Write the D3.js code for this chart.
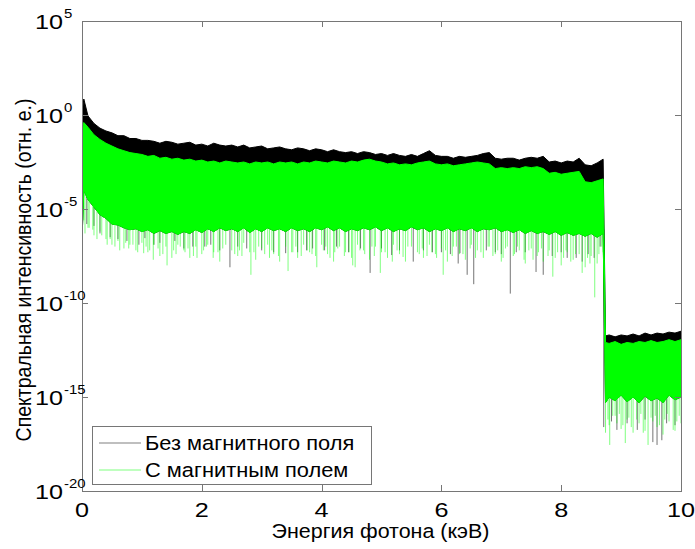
<!DOCTYPE html>
<html>
<head>
<meta charset="utf-8">
<script src="https://cdn.jsdelivr.net/npm/d3@7"></script>
<style>
  body { margin: 0; background: #fff; }
  text { font-family: "Liberation Sans", Arial, sans-serif; fill: #000; }
</style>
</head>
<body>
<svg id="chart" width="695" height="549"></svg>
<script>
// Photon energy grid, keV
const energy = [
  0, 0.03, 0.1, 0.2, 0.3, 0.4, 0.5, 0.6, 0.7, 0.8, 0.9, 1.0,
  1.1, 1.2, 1.3, 1.4, 1.5, 1.6, 1.7, 1.8, 1.9, 2.0,
  2.1, 2.2, 2.3, 2.4, 2.5, 2.6, 2.7, 2.8, 2.9, 3.0,
  3.1, 3.2, 3.3, 3.4, 3.5, 3.6, 3.7, 3.8, 3.9, 4.0,
  4.1, 4.2, 4.3, 4.4, 4.5, 4.6, 4.7, 4.8, 4.9, 5.0,
  5.1, 5.2, 5.3, 5.4, 5.5, 5.6, 5.7, 5.8, 5.9, 6.0,
  6.1, 6.2, 6.3, 6.4, 6.5, 6.6, 6.7, 6.8, 6.9, 7.0,
  7.1, 7.2, 7.3, 7.4, 7.5, 7.6, 7.7, 7.8, 7.9, 8.0,
  8.1, 8.2, 8.3, 8.4, 8.5, 8.6, 8.7,
  8.74, 8.8, 8.9, 9.0, 9.1, 9.2, 9.3, 9.4, 9.5, 9.6, 9.7, 9.8, 9.9, 10.0
];

// Without magnetic field: upper envelope, log10 of intensity
const blackUpperExp = [
  0.0, 0.85, -0.05, -0.45, -0.7, -0.85, -0.95, -1.1, -1.1, -1.25, -1.25, -1.35,
  -1.35, -1.4, -1.5, -1.4, -1.45, -1.55, -1.5, -1.45, -1.6, -1.55,
  -1.65, -1.5, -1.6, -1.65, -1.6, -1.7, -1.6, -1.75, -1.7, -1.65,
  -1.8, -1.75, -1.7, -1.8, -1.85, -1.75, -1.8, -1.9, -1.8, -1.85,
  -1.95, -1.85, -1.95, -2.0, -1.95, -2.05, -1.95, -2.0, -2.1, -2.05,
  -2.15, -2.05, -2.15, -2.2, -2.1, -2.2, -2.05, -1.9, -2.15, -2.2,
  -2.2, -2.3, -2.2, -2.25, -2.2, -2.15, -2.05, -2.0, -2.3, -2.35,
  -2.3, -2.3, -2.4, -2.3, -2.25, -2.3, -2.2, -2.5, -2.45, -2.55,
  -2.45, -2.5, -2.3, -2.65, -2.7, -2.55, -2.35,
  -11.75, -11.7, -11.8, -11.7, -11.75, -11.65, -11.75, -11.6, -11.7, -11.6, -11.65, -11.55, -11.6, -11.5
];

// With magnetic field: upper and lower edges of the dense band, log10 of intensity
const greenUpperExp = [
  -0.9, -0.4, -0.65, -1.05, -1.3, -1.5, -1.65, -1.8, -1.9, -2.0, -2.05, -2.1,
  -2.2, -2.15, -2.3, -2.25, -2.35, -2.3, -2.4, -2.35, -2.45, -2.4,
  -2.5, -2.45, -2.55, -2.45, -2.5, -2.55, -2.5, -2.6, -2.5, -2.55,
  -2.5, -2.6, -2.5, -2.55, -2.5, -2.6, -2.5, -2.55, -2.45, -2.5,
  -2.55, -2.45, -2.5, -2.55, -2.45, -2.5, -2.4, -2.35, -2.45, -2.5,
  -2.6, -2.55, -2.65, -2.6, -2.65, -2.55, -2.5, -2.45, -2.6, -2.65,
  -2.6, -2.7, -2.65, -2.6, -2.55, -2.5, -2.55, -2.6, -2.85, -2.8,
  -2.85, -2.8, -2.85, -2.75, -2.8, -2.75, -2.85, -3.1, -3.05, -3.15,
  -3.1, -3.05, -3.0, -3.55, -3.6, -3.5, -3.4,
  -12.1, -12.15, -12.05, -12.2, -12.1, -12.15, -12.05, -12.1, -12.0, -12.1, -12.05, -11.95, -12.05, -11.95
];
const greenLowerExp = [
  -6.6, -4.0, -4.5, -4.9, -5.3, -5.5, -5.8, -5.85, -6.0, -6.1, -6.05, -6.2,
  -6.1, -6.3, -6.15, -6.3, -6.2, -6.35, -6.2, -6.3, -6.1, -6.25,
  -6.05, -6.2, -6.0, -6.15, -6.05, -6.2, -6.0, -6.25, -6.05, -6.2,
  -6.0, -6.15, -6.05, -6.2, -6.0, -6.15, -6.05, -6.2, -6.0, -6.1,
  -5.95, -6.15, -6.0, -6.2, -6.05, -6.15, -6.0, -6.1, -5.95, -6.15,
  -6.0, -6.2, -6.05, -6.15, -5.95, -6.1, -6.0, -6.2, -6.05, -6.15,
  -6.0, -6.2, -6.05, -6.15, -6.0, -6.2, -6.05, -6.1, -6.0, -6.2,
  -6.1, -6.25, -6.1, -6.3, -6.15, -6.3, -6.2, -6.35, -6.2, -6.4,
  -6.25, -6.4, -6.3, -6.45, -6.3, -6.5, -6.3,
  -15.3, -15.0, -15.2, -14.9, -15.25, -15.0, -15.3, -14.95, -15.2, -15.05, -15.3, -14.9, -15.15, -15.0
];
// With magnetic field: lowest sample in each energy bin, log10 of intensity
const greenMinExp = [
  -6.6, -5.6, -6.0, -6.4, -6.2, -6.6, -6.9, -6.7, -7.1, -6.9, -7.2, -6.8,
  -7.3, -6.9, -7.5, -7.0, -7.6, -6.9, -7.2, -7.6, -7.0, -7.4,
  -6.9, -7.3, -7.8, -6.9, -7.2, -7.5, -6.8, -7.3, -7.7, -7.1,
  -6.9, -7.4, -7.8, -7.0, -7.3, -7.6, -6.9, -7.3, -7.5, -6.9,
  -7.4, -7.8, -7.0, -7.3, -7.6, -6.9, -7.2, -7.7, -7.0, -7.3,
  -7.6, -6.9, -7.4, -7.8, -7.0, -7.3, -7.6, -6.9, -7.4, -7.1,
  -7.8, -7.0, -7.4, -7.7, -6.9, -7.2, -7.6, -7.0, -7.4, -7.8,
  -7.0, -7.5, -7.2, -7.9, -7.1, -7.5, -7.8, -7.2, -7.6, -8.0,
  -7.3, -7.7, -7.4, -8.1, -7.5, -7.9, -7.3,
  -16.9, -16.5, -16.0, -16.7, -16.2, -16.9, -16.4, -16.8, -16.1, -16.6, -17.0, -16.3, -16.8, -16.4
];

// Deep single-channel dips between grid points: [energy keV, log10 of intensity]
const blackDips = [
  [0.08, -5.8], [0.2, -5.9], [0.3, -6.3], [0.47, -6.5], [0.6, -6.6], [0.75, -6.7],
  [0.95, -6.9], [1.05, -6.55], [1.2, -6.9], [1.3, -6.8], [1.55, -6.7], [1.7, -7.1],
  [1.85, -7.0], [2.05, -7.0], [2.15, -6.9], [2.3, -7.2], [2.47, -8.1], [2.6, -7.0],
  [2.75, -7.1], [3.0, -7.2], [3.2, -7.3], [3.4, -7.35], [3.6, -7.3], [3.75, -7.2],
  [3.85, -7.1], [4.05, -7.2], [4.25, -7.0], [4.45, -7.3], [4.65, -7.1], [4.81, -8.4],
  [5.0, -7.1], [5.17, -7.45], [5.3, -7.2], [5.53, -7.8], [5.7, -7.2], [5.85, -7.3],
  [6.0, -7.3], [6.15, -7.4], [6.28, -7.9], [6.31, -7.35], [6.43, -8.5], [6.54, -9.0],
  [6.75, -7.2], [6.9, -7.3], [7.0, -7.4], [7.15, -9.5], [7.25, -7.3], [7.4, -7.3],
  [7.58, -8.35], [7.7, -8.5], [7.85, -7.5], [8.0, -7.3], [8.1, -7.6], [8.25, -7.6],
  [8.35, -7.8], [8.45, -7.4], [8.55, -7.6], [8.65, -7.0],
  [8.71, -16.6],
  [8.84, -16.3], [8.93, -16.75], [9.1, -16.4], [9.27, -16.75], [9.4, -16.2],
  [9.53, -17.4], [9.6, -17.55], [9.68, -17.3], [9.76, -16.4], [9.9, -16.5]
];
const greenDips = [
  [0.05, -6.3], [0.12, -6.0], [0.18, -6.1], [0.25, -6.6], [0.33, -6.4], [0.42, -6.9],
  [0.47, -6.6], [0.55, -7.0], [0.63, -7.2], [0.73, -6.8], [0.78, -7.1], [0.85, -6.9],
  [0.93, -7.3], [1.03, -7.35], [1.07, -7.0], [1.13, -7.2], [1.19, -7.7], [1.27, -7.1],
  [1.35, -7.4], [1.42, -8.0], [1.53, -7.2], [1.57, -7.4], [1.64, -7.0], [1.72, -7.3],
  [1.77, -7.1], [1.86, -7.5], [1.92, -7.6], [2.03, -7.2], [2.08, -7.0], [2.19, -7.6],
  [2.27, -7.3], [2.35, -7.1], [2.55, -7.4], [2.63, -7.2], [2.67, -7.5], [2.82, -8.5],
  [2.87, -7.3], [2.95, -7.0], [3.05, -7.4], [3.13, -7.6], [3.17, -7.2], [3.28, -7.5],
  [3.44, -8.3], [3.52, -7.3], [3.57, -7.0], [3.66, -7.5], [3.76, -7.2], [3.84, -7.4],
  [3.92, -8.1], [4.03, -7.2], [4.07, -7.0], [4.14, -7.6], [4.22, -7.3], [4.27, -7.1],
  [4.38, -7.5], [4.46, -7.3], [4.52, -8.0], [4.56, -8.1], [4.64, -7.2], [4.72, -7.4],
  [4.84, -7.0], [4.88, -7.5], [4.98, -8.4], [5.06, -7.3], [5.18, -7.8], [5.26, -7.2],
  [5.36, -7.55], [5.44, -7.0], [5.63, -7.4], [5.68, -7.1], [5.76, -7.5], [5.84, -7.3],
  [5.92, -7.6], [6.03, -8.5], [6.07, -7.2], [6.18, -7.5], [6.25, -7.0], [6.36, -7.4],
  [6.48, -7.1], [6.57, -7.6], [6.66, -7.3], [6.78, -7.0], [6.86, -7.5], [6.94, -7.2],
  [7.03, -7.6], [7.07, -7.1], [7.22, -7.4], [7.27, -7.0], [7.38, -7.7], [7.46, -7.2],
  [7.53, -7.7], [7.62, -7.3], [7.67, -7.1], [7.78, -7.5], [7.86, -8.6], [7.94, -7.3],
  [8.04, -7.6], [8.08, -7.2], [8.16, -7.8], [8.24, -7.4], [8.35, -8.4], [8.44, -7.6],
  [8.48, -7.9], [8.56, -9.7], [8.63, -7.4], [8.67, -7.0],
  [8.78, -16.2], [8.81, -17.55], [8.86, -16.0], [8.93, -16.4], [8.97, -15.9], [9.03, -16.5],
  [9.07, -17.45], [9.13, -16.1], [9.17, -16.6], [9.26, -16.2], [9.33, -15.9], [9.37, -16.9],
  [9.45, -17.55], [9.53, -16.3], [9.57, -16.0], [9.64, -16.5], [9.73, -16.2], [9.77, -15.9],
  [9.87, -16.75], [9.93, -16.3], [9.97, -16.0]
];

const xTickValues = [0, 2, 4, 6, 8, 10];
const yTickExps = [5, 0, -5, -10, -15, -20];
const seriesNames = ["Без магнитного поля", "С магнитным полем"];
const seriesColors = ["#000000", "#00ff00"];
const xTitle = "Энергия фотона (кэВ)";
const yTitle = "Спектральная интенсивность (отн. е.)";

const svg = d3.select("#chart");
const plot = { left: 82, top: 21, right: 681, bottom: 491 };
const frameColor = "#767676";

const x = d3.scaleLinear().domain([0, 10]).range([plot.left, plot.right]);
const y = d3.scaleLog().domain([1e-20, 1e5]).range([plot.bottom, plot.top]);
const p10 = e => Math.pow(10, e);

const rows = energy.map((e, i) => ({
  e,
  bTop: p10(blackUpperExp[i]),
  gTop: p10(greenUpperExp[i]),
  gBot: p10(greenLowerExp[i]),
  gMin: p10(greenMinExp[i])
}));

svg.append("clipPath").attr("id", "plotClip").append("rect")
  .attr("x", plot.left).attr("y", plot.top)
  .attr("width", plot.right - plot.left).attr("height", plot.bottom - plot.top);
const layer = svg.append("g").attr("clip-path", "url(#plotClip)");

// nearest grid row for a dip's energy
const nearest = d3.bisector(d => d.e).center;
function drawDips(g, data, color, opacity) {
  g.selectAll(null).data(data).enter().append("line")
    .attr("x1", d => x(d[0])).attr("x2", d => x(d[0]))
    .attr("y1", d => y(rows[nearest(rows, d[0])].gBot) - 4)
    .attr("y2", d => y(p10(d[1])))
    .attr("stroke", color).attr("stroke-width", 1).attr("stroke-opacity", opacity);
}

// without magnetic field
const blackArea = d3.area().x(d => x(d.e)).y0(d => y(d.gBot)).y1(d => y(d.bTop));
layer.append("path").datum(rows).attr("d", blackArea)
  .attr("fill", seriesColors[0]).attr("stroke", seriesColors[0]).attr("stroke-width", 1);
drawDips(layer.append("g"), blackDips, seriesColors[0], 0.55);

// with magnetic field
const greenArea = d3.area().x(d => x(d.e)).y0(d => y(d.gBot)).y1(d => y(d.gTop));
layer.append("path").datum(rows).attr("d", greenArea)
  .attr("fill", seriesColors[1]).attr("stroke", seriesColors[1]).attr("stroke-width", 1);
layer.append("g").selectAll(null).data(rows).enter().append("line")
  .attr("x1", d => x(d.e)).attr("x2", d => x(d.e))
  .attr("y1", d => y(d.gBot) - 4).attr("y2", d => y(d.gMin))
  .attr("stroke", seriesColors[1]).attr("stroke-width", 1).attr("stroke-opacity", 0.5);
drawDips(layer.append("g"), greenDips, seriesColors[1], 0.5);

// frame and inward ticks on all four sides
svg.append("rect")
  .attr("x", plot.left + 0.5).attr("y", plot.top + 0.5)
  .attr("width", plot.right - plot.left).attr("height", plot.bottom - plot.top)
  .attr("fill", "none").attr("stroke", frameColor).attr("stroke-width", 1);

const tickLen = 6;
const ticks = svg.append("g").attr("stroke", frameColor).attr("stroke-width", 1);
xTickValues.forEach(v => {
  const px = Math.round(x(v)) + 0.5;
  ticks.append("line").attr("x1", px).attr("x2", px).attr("y1", plot.bottom).attr("y2", plot.bottom - tickLen);
  ticks.append("line").attr("x1", px).attr("x2", px).attr("y1", plot.top).attr("y2", plot.top + tickLen);
});
yTickExps.forEach(p => {
  const py = Math.round(y(p10(p))) + 0.5;
  ticks.append("line").attr("x1", plot.left).attr("x2", plot.left + tickLen).attr("y1", py).attr("y2", py);
  ticks.append("line").attr("x1", plot.right).attr("x2", plot.right - tickLen).attr("y1", py).attr("y2", py);
});

// tick labels (glyphs drawn slightly wide)
const wide = (sel, sx, px, py) => sel.attr("transform", `translate(${px},${py}) scale(${sx},1)`);
const xl = svg.append("g");
xTickValues.forEach(v => {
  wide(xl.append("text"), 1.2, x(v), plot.bottom + 26)
    .attr("text-anchor", "middle").attr("font-size", 21).text(v);
});

const yl = svg.append("g");
yTickExps.forEach(p => {
  const py = y(p10(p));
  wide(yl.append("text"), 1.2, 63, py + 8)
    .attr("text-anchor", "end").attr("font-size", 21).text("10");
  wide(yl.append("text"), 1.15, 64, py - 3)
    .attr("text-anchor", "start").attr("font-size", 13).text(p);
});

// axis titles
wide(svg.append("text"), 1.1, (plot.left + plot.right) / 2 - 1, 538)
  .attr("text-anchor", "middle").attr("font-size", 19.5)
  .text(xTitle);
svg.append("text")
  .attr("transform", "translate(31,270) scale(1.12,1) rotate(-90)")
  .attr("text-anchor", "middle").attr("font-size", 19.5)
  .text(yTitle);

// legend
const lg = svg.append("g");
lg.append("rect").attr("x", 92.5).attr("y", 426.5).attr("width", 279).attr("height", 58)
  .attr("fill", "#fff").attr("stroke", frameColor).attr("stroke-width", 1);
seriesNames.forEach((name, i) => {
  const ly = 443 + i * 27;
  lg.append("line").attr("x1", 99).attr("x2", 141).attr("y1", ly).attr("y2", ly)
    .attr("stroke", seriesColors[i]).attr("stroke-width", 1).attr("stroke-opacity", 0.5);
  wide(lg.append("text"), 1.12, 145, ly + 7).attr("font-size", 19.5).text(name);
});
</script>
</body>
</html>
